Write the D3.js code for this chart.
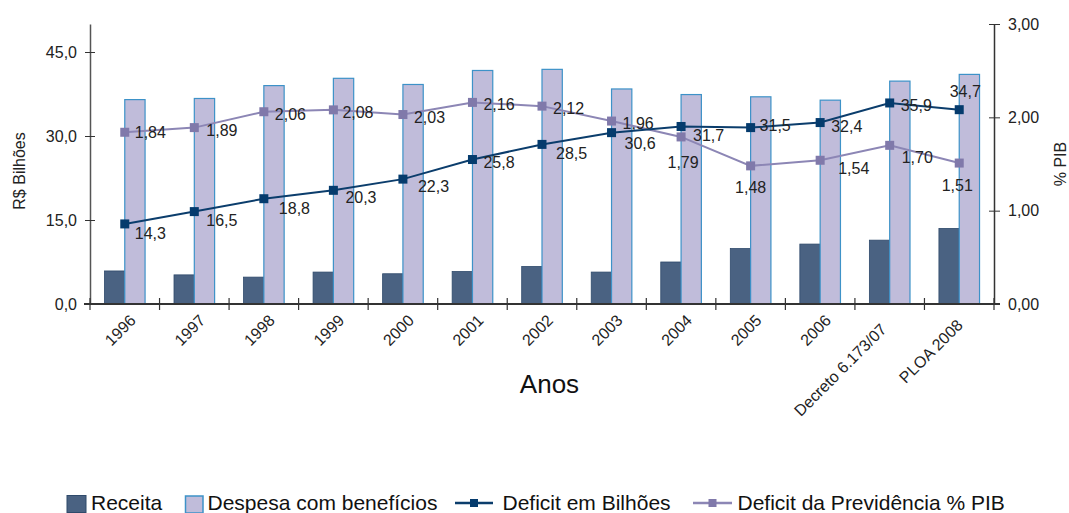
<!DOCTYPE html>
<html>
<head>
<meta charset="utf-8">
<script src="https://cdn.jsdelivr.net/npm/d3@7"></script>
<style>
  body { margin: 0; background: #fff; }
  svg { display: block; font-family: "Liberation Sans", Arial, sans-serif; }
</style>
</head>
<body>
<svg id="chart" width="1069" height="513"></svg>
<script>
// categories and series (R$ bilhões / % PIB)
const categories = ['1996', '1997', '1998', '1999', '2000', '2001', '2002', '2003', '2004', '2005', '2006', 'Decreto 6.173/07', 'PLOA 2008'];
const receita = [5.9, 5.2, 4.8, 5.7, 5.4, 5.8, 6.7, 5.7, 7.5, 9.9, 10.7, 11.4, 13.5];
const despesa = [36.5, 36.7, 39.0, 40.3, 39.2, 41.7, 41.9, 38.4, 37.4, 37.0, 36.4, 39.8, 41.0];
const deficitBilhoes = [14.3, 16.5, 18.8, 20.3, 22.3, 25.8, 28.5, 30.6, 31.7, 31.5, 32.4, 35.9, 34.7];
const deficitPib = [1.84, 1.89, 2.06, 2.08, 2.03, 2.16, 2.12, 1.96, 1.79, 1.48, 1.54, 1.70, 1.51];
const leftTicks = [0, 15, 30, 45];
const rightTicks = [0, 1, 2, 3];

// label offsets from each marker: [dx, dy(baseline), anchor]
const bilhoesLabelPos = [[10, 15, 'start'], [12, 14, 'start'], [15, 15, 'start'], [12, 13, 'start'], [15, 13, 'start'],
  [11, 8, 'start'], [14, 15, 'start'], [13, 16, 'start'], [12, 15, 'start'], [9, 3, 'start'], [11, 9, 'start'],
  [11, 8, 'start'], [6, -13, 'middle']];
const pibLabelPos = [[10, 6, 'start'], [12, 8, 'start'], [11, 8, 'start'], [9, 8, 'start'], [11, 8, 'start'],
  [11, 8, 'start'], [11, 8, 'start'], [11, 8, 'start'], [2, 31, 'middle'], [0, 27, 'middle'], [18, 14, 'start'],
  [12, 18, 'start'], [-2, 28, 'middle']];

const colors = {
  receita: '#4a6282', receitaStroke: '#2f4a6b',
  despesa: '#c0bcda', despesaStroke: '#3d92c8',
  bilhoes: '#0b3d6c', bilhoesMarker: '#053b6d',
  pib: '#8c86b5', pibMarker: '#8079aa',
  axis: '#333'
};

const locale = d3.formatLocale({ decimal: ',', thousands: '.', grouping: [3], currency: ['R$', ''] });
const f1 = locale.format('.1f');
const f2 = locale.format('.2f');

const svg = d3.select('#chart');
const plotLeft = 90, plotRight = 994, plotTop = 24, plotBottom = 304;

const x = d3.scaleBand().domain(categories).range([plotLeft, plotRight]).padding(0);
const yL = d3.scaleLinear().domain([0, 50]).range([plotBottom, plotTop]);
const yR = d3.scaleLinear().domain([0, 3]).range([plotBottom, plotTop]);
const barW = x.bandwidth() * 0.292;

// bars
const g = svg.append('g');
g.selectAll('.receita')
  .data(receita)
  .enter().append('rect')
  .attr('x', (d, i) => x(categories[i]) + x.bandwidth() / 2 - barW)
  .attr('y', d => yL(d))
  .attr('width', barW)
  .attr('height', d => yL(0) - yL(d))
  .attr('fill', colors.receita)
  .attr('stroke', colors.receitaStroke)
  .attr('stroke-width', 0.8);

g.selectAll('.despesa')
  .data(despesa)
  .enter().append('rect')
  .attr('x', (d, i) => x(categories[i]) + x.bandwidth() / 2)
  .attr('y', d => yL(d))
  .attr('width', barW)
  .attr('height', d => yL(0) - yL(d))
  .attr('fill', colors.despesa)
  .attr('stroke', colors.despesaStroke)
  .attr('stroke-width', 1.2);

// axes
const leftAxis = svg.append('g')
  .attr('transform', `translate(${plotLeft},0)`)
  .call(d3.axisLeft(yL).tickValues(leftTicks).tickFormat(f1).tickSize(5).tickSizeOuter(0).tickPadding(8));
leftAxis.select('.domain').attr('stroke', '#555').attr('stroke-width', 1.5);
leftAxis.selectAll('.tick line').attr('x1', -5).attr('x2', 5).attr('stroke', colors.axis);

const rightAxis = svg.append('g')
  .attr('transform', `translate(${plotRight},0)`)
  .call(d3.axisRight(yR).tickValues(rightTicks).tickFormat(f2).tickSize(6).tickSizeOuter(0).tickPadding(8));
rightAxis.select('.domain').attr('stroke', colors.axis).attr('stroke-width', 1.5);
rightAxis.selectAll('.tick line').attr('x1', -5).attr('x2', 6).attr('stroke', colors.axis);

[leftAxis, rightAxis].forEach(a => a.selectAll('.tick text')
  .attr('font-size', 16).attr('fill', '#222').attr('font-family', '"Liberation Sans", Arial, sans-serif'));

// x axis
const xAxis = svg.append('g').attr('transform', `translate(0,${plotBottom})`);
xAxis.append('line')
  .attr('x1', plotLeft - 6).attr('x2', plotRight + 6)
  .attr('stroke', colors.axis).attr('stroke-width', 2);
const boundaries = categories.map(c => x(c)).concat([x.range()[1]]);
xAxis.selectAll('.xtick')
  .data(boundaries)
  .enter().append('line')
  .attr('x1', d => d).attr('x2', d => d)
  .attr('y1', -6).attr('y2', 6)
  .attr('stroke', colors.axis).attr('stroke-width', 1.2);
const xLabels = xAxis.selectAll('.xlabel')
  .data(categories)
  .enter().append('text')
  .attr('text-anchor', 'end')
  .attr('font-size', 16)
  .attr('fill', '#222')
  .text(d => d);
// longer labels sit a bit further back along their diagonal
const shortLen = d3.min(xLabels.nodes(), n => n.getComputedTextLength());
xLabels.attr('transform', function (d) {
  const t = 0.23 * (this.getComputedTextLength() - shortLen);
  const px = x(d) + x.bandwidth() / 2 + 12 - 0.707 * t;
  const py = 17.5 + 0.45 * t;
  return `translate(${px},${py}) rotate(-45)`;
});

// lines
function drawSeries(values, scale, color, markerColor, fmt, pos) {
  const line = d3.line()
    .x((d, i) => x(categories[i]) + x.bandwidth() / 2)
    .y(d => scale(d));
  svg.append('path')
    .datum(values)
    .attr('d', line)
    .attr('fill', 'none')
    .attr('stroke', color)
    .attr('stroke-width', 2);
  svg.selectAll(null)
    .data(values)
    .enter().append('rect')
    .attr('x', (d, i) => x(categories[i]) + x.bandwidth() / 2 - 4.5)
    .attr('y', d => scale(d) - 4.5)
    .attr('width', 9).attr('height', 9)
    .attr('fill', markerColor);
  svg.selectAll(null)
    .data(values)
    .enter().append('text')
    .attr('x', (d, i) => x(categories[i]) + x.bandwidth() / 2 + pos[i][0])
    .attr('y', (d, i) => scale(d) + pos[i][1])
    .attr('text-anchor', (d, i) => pos[i][2])
    .attr('font-size', 16)
    .attr('fill', '#222')
    .text(d => fmt(d));
}
drawSeries(deficitPib, yR, colors.pib, colors.pibMarker, f2, pibLabelPos);
drawSeries(deficitBilhoes, yL, colors.bilhoes, colors.bilhoesMarker, f1, bilhoesLabelPos);

// axis titles
svg.append('text')
  .attr('transform', `translate(25,171) rotate(-90)`)
  .attr('text-anchor', 'middle')
  .attr('font-size', 16).attr('fill', '#222')
  .text('R$ Bilhões');
svg.append('text')
  .attr('transform', `translate(1066,164) rotate(-90)`)
  .attr('text-anchor', 'middle')
  .attr('font-size', 16).attr('fill', '#222')
  .text('% PIB');
svg.append('text')
  .attr('x', 549.5).attr('y', 393)
  .attr('text-anchor', 'middle')
  .attr('font-size', 26).attr('fill', '#111')
  .text('Anos');

// legend
const legend = svg.append('g');
const ly = 510;
legend.append('rect').attr('x', 67).attr('y', 495.5).attr('width', 19).attr('height', 17)
  .attr('fill', colors.receita).attr('stroke', colors.receitaStroke);
legend.append('text').attr('x', 91).attr('y', ly).attr('font-size', 21).attr('fill', '#111').text('Receita');
legend.append('rect').attr('x', 185.5).attr('y', 496).attr('width', 17.5).attr('height', 17)
  .attr('fill', colors.despesa).attr('stroke', colors.despesaStroke).attr('stroke-width', 1.5);
legend.append('text').attr('x', 207.5).attr('y', ly).attr('font-size', 21).attr('fill', '#111').text('Despesa com benefícios');
const lineItems = [
  { x1: 455, x2: 493, text: 'Deficit em Bilhões', tx: 502.5, color: colors.bilhoes, marker: colors.bilhoesMarker },
  { x1: 693, x2: 732, text: 'Deficit da Previdência % PIB', tx: 737.5, color: colors.pib, marker: colors.pibMarker }
];
lineItems.forEach(it => {
  legend.append('line').attr('x1', it.x1).attr('x2', it.x2).attr('y1', 503).attr('y2', 503)
    .attr('stroke', it.color).attr('stroke-width', 2.5);
  legend.append('rect').attr('x', (it.x1 + it.x2) / 2 - 4).attr('y', 499).attr('width', 8).attr('height', 8)
    .attr('fill', it.marker);
  legend.append('text').attr('x', it.tx).attr('y', ly).attr('font-size', 21).attr('fill', '#111').text(it.text);
});
</script>
</body>
</html>
